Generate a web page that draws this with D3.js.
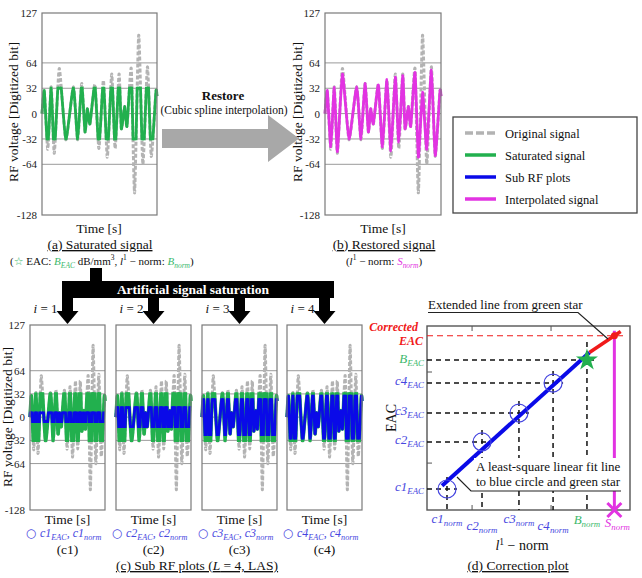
<!DOCTYPE html>
<html><head><meta charset="utf-8">
<script src="https://cdn.jsdelivr.net/npm/d3@7"></script>
<style>
body{margin:0;background:#fff}
svg{display:block}
text{font-family:"Liberation Serif","Times New Roman",Times,serif;fill:#111}
</style>
</head><body>
<svg id="c" width="642" height="578" font-family="Liberation Serif, Times New Roman, serif"></svg>
<script>
// ---------------- data ----------------
const sigT  = [0, .020, .050, .080, .107, .150, .207, .273, .310, .345, .374, .394, .417, .460, .495, .534, .568, .606, .636, .670, .690, .718, .739, .776, .805, .841, .877, .917, .950, .991, 1.0];
const origV = [0, 29, -45, 34, -50, 57, -33, 34, -33, 38, -23, 6, -13, 37, -44, 42, -55, 50, -44, 50, -19, 9, -16, 57, -100, 99, -64, 59, -54, 28, 22];
const restV = [0, 29, -42, 33, -48, 50, -32, 34, -32, 38, -23, 6, -13, 36, -42, 43, -47, 46, -36, 48, -19, 9, -16, 52, -55, 27, -45, 55, -53, 28, 22];
const yTicks = [127, 64, 32, 0, -32, -64, -128];
const gridVals = [64, 32, 0, -32, -64];
const satLevel = 32;
const subLevels = [6, 13, 24, 29];
const subNames = ['c1', 'c2', 'c3', 'c4'];
const legendItems = ['Original signal', 'Saturated signal', 'Sub RF plots', 'Interpolated signal'];
// correction plot
const cNorm = [0.985, 2.71, 4.53, 6.21];
const cEAC  = [1.14, 3.70, 5.27, 6.90];
const bNorm = 7.88, bEAC = 8.15;
const sNorm = 9.23, corrEAC = 9.47;
const fitSpan = [0.74, 8.0];
const extEnd = 9.54;
const dTickX = [2.22, 6.11];
const dTickY = [2.55, 7.5];

const C = {gray:'#b3b3b3', green:'#22b04e', blue:'#0a0ae8', mag:'#e233e2', red:'#f01a1a',
           lblue:'#4646e0', lgreen:'#3cb96c', grid:'#9a9a9a', box:'#7a7a7a'};
const CURVE = d3.curveCardinal.tension(0.5);
const svg = d3.select('#c');
const defs = svg.append('defs');

function rich(x, y, parts, anchor, size, extra) {
  const t = svg.append('text').attr('x', x).attr('y', y).attr('text-anchor', anchor || 'start').attr('font-size', size || 13);
  if (extra) extra(t);
  let cur = 0;
  parts.forEach(p => {
    const off = p.sub ? 3 : (p.sup ? -5 : 0);
    const ts = t.append('tspan').text(p.t);
    if (off - cur !== 0) ts.attr('dy', off - cur);
    cur = off;
    if (p.sub || p.sup) ts.attr('font-size', (size || 13) * 0.68);
    if (p.fill) ts.style('fill', p.fill);
    if (p.it) ts.attr('font-style', 'italic');
    if (p.b) ts.attr('font-weight', 'bold');
    if (p.ff) ts.style('font-family', p.ff);
  });
  return t;
}

let cid = 0;
const pts = (vals) => sigT.map((t, i) => ({t, v: vals[i]}));

function panel(x0, x1, y0, y1, showTicks) {
  const x = d3.scaleLinear().domain([0, 1]).range([x0, x1]);
  const y = d3.scaleLinear().domain([-128, 127]).range([y1, y0]);
  svg.append('g').selectAll('line').data(gridVals).join('line')
    .attr('x1', x0).attr('x2', x1).attr('y1', d => y(d)).attr('y2', d => y(d))
    .attr('stroke', C.grid).attr('stroke-width', 1);
  if (showTicks) {
    const ax = svg.append('g').attr('transform', `translate(${x0},0)`)
      .call(d3.axisLeft(y).tickValues(yTicks).tickFormat(d => String(d)).tickSize(0).tickPadding(5));
    ax.select('.domain').remove();
    ax.attr('font-family', null);
    ax.selectAll('text').attr('font-size', 11).style('fill', '#222');
  }
  return {x, y, x0, x1, y0, y1};
}
function frame(p) {
  svg.append('rect').attr('x', p.x0).attr('y', p.y0).attr('width', p.x1 - p.x0).attr('height', p.y1 - p.y0)
    .attr('fill', 'none').attr('stroke', C.box).attr('stroke-width', 1.2);
}
function plainLine(p, vals, color, w, dash) {
  const line = d3.line().x(d => p.x(d.t)).y(d => p.y(d.v)).curve(CURVE);
  const el = svg.append('path').attr('d', line(pts(vals))).attr('fill', 'none')
    .attr('stroke', color).attr('stroke-width', w).attr('stroke-linejoin', 'round');
  if (dash) el.attr('stroke-dasharray', dash);
}
function satLine(p, vals, L, color, w) {
  const P = pts(vals);
  const id = 'k' + (cid++);
  defs.append('clipPath').attr('id', id + 'b').append('rect')
    .attr('x', p.x0 - 5).attr('width', p.x1 - p.x0 + 10)
    .attr('y', p.y(L) - w / 2).attr('height', p.y(-L) - p.y(L) + w);
  defs.append('clipPath').attr('id', id + 'u').append('path')
    .attr('d', d3.area().x(d => p.x(d.t)).y0(p.y(-300)).y1(d => p.y(d.v)).curve(CURVE)(P));
  defs.append('clipPath').attr('id', id + 'l').append('path')
    .attr('d', d3.area().x(d => p.x(d.t)).y0(p.y(300)).y1(d => p.y(d.v)).curve(CURVE)(P));
  const line = d3.line().x(d => p.x(d.t)).y(d => p.y(d.v)).curve(CURVE);
  svg.append('path').attr('d', line(P)).attr('fill', 'none').attr('stroke', color)
    .attr('stroke-width', w).attr('stroke-linejoin', 'round').attr('clip-path', `url(#${id}b)`);
  [[L, 'u'], [-L, 'l']].forEach(([lv, s]) => {
    svg.append('line').attr('x1', p.x0).attr('x2', p.x1).attr('y1', p.y(lv)).attr('y2', p.y(lv))
      .attr('stroke', color).attr('stroke-width', w).attr('clip-path', `url(#${id}${s})`);
  });
}
function yTitle(x, y, size) {
  svg.append('text').attr('transform', `translate(${x},${y}) rotate(-90)`).attr('text-anchor', 'middle')
    .attr('font-size', size || 13.5).text('RF voltage [Digitized bit]');
}

// ---------------- (a) ----------------
const pa = panel(42, 157, 13, 215, true);
plainLine(pa, origV, C.gray, 3, '4,2');
satLine(pa, origV, satLevel, C.green, 2.8);
frame(pa);
yTitle(18, 112);
svg.append('text').attr('x', 99).attr('y', 233).attr('text-anchor', 'middle').attr('font-size', 13.5).text('Time [s]');
svg.append('text').attr('x', 100).attr('y', 249).attr('text-anchor', 'middle').attr('font-size', 13.5)
  .attr('text-decoration', 'underline').text('(a) Saturated signal');

// ---------------- (b) ----------------
const pb = panel(325, 441, 13, 215, true);
plainLine(pb, origV, C.gray, 3, '4,2');
plainLine(pb, restV, C.mag, 2.8);
frame(pb);
yTitle(302, 112);
svg.append('text').attr('x', 383).attr('y', 233).attr('text-anchor', 'middle').attr('font-size', 13.5).text('Time [s]');
svg.append('text').attr('x', 384).attr('y', 249).attr('text-anchor', 'middle').attr('font-size', 13.5)
  .attr('text-decoration', 'underline').text('(b) Restored signal');

// gray arrow
svg.append('path').attr('d', 'M162,129 L268,129 L268,115 L299,138.5 L268,162 L268,148 L162,148 Z').attr('fill', '#a8a8a8');
svg.append('text').attr('x', 223).attr('y', 100).attr('text-anchor', 'middle').attr('font-size', 13).attr('font-weight', 'bold').text('Restore');
svg.append('text').attr('x', 224).attr('y', 114).attr('text-anchor', 'middle').attr('font-size', 11.5).text('(Cubic spline interpolation)');

// legend
svg.append('rect').attr('x', 453).attr('y', 117).attr('width', 184).attr('height', 96)
  .attr('fill', '#fff').attr('stroke', '#444').attr('stroke-width', 1.3);
const legCol = [C.gray, C.green, C.blue, C.mag];
legendItems.forEach((s, i) => {
  const ly = 133 + i * 22;
  const l = svg.append('line').attr('x1', 465).attr('x2', 496).attr('y1', ly).attr('y2', ly)
    .attr('stroke', legCol[i]).attr('stroke-width', 3.5);
  if (i === 0) l.attr('stroke-dasharray', '8,3');
  svg.append('text').attr('x', 505).attr('y', ly + 4.5).attr('font-size', 12.5).text(s);
});

// texts under (a) and (b)
rich(10, 265, [
  {t: '('}, {t: '☆', fill: C.lgreen, ff: '"DejaVu Sans"'}, {t: ' EAC: '},
  {t: 'B', it: true, fill: C.lgreen}, {t: 'EAC', sub: true, it: true, fill: C.lgreen},
  {t: ' dB/mm'}, {t: '3', sup: true}, {t: ', '}, {t: 'l', it: true}, {t: '1', sup: true},
  {t: ' − norm: '}, {t: 'B', it: true, fill: C.lgreen}, {t: 'norm', sub: true, it: true, fill: C.lgreen}, {t: ')'}
], 'start', 11);
rich(384, 265, [
  {t: '('}, {t: 'l', it: true}, {t: '1', sup: true}, {t: ' − norm: '},
  {t: 'S', it: true, fill: C.mag}, {t: 'norm', sub: true, it: true, fill: C.mag}, {t: ')'}
], 'middle', 11);

// ---------------- (c) sub plots ----------------
const subX = [[30, 105], [116, 191], [202, 277], [287, 362]];
const arrowG = svg.append('g').attr('fill', '#000');
arrowG.append('rect').attr('x', 90).attr('y', 268).attr('width', 12).attr('height', 14);
arrowG.append('rect').attr('x', 62).attr('y', 281).attr('width', 272).attr('height', 17);
subX.forEach(([a, b], i) => {
  const cx = (a + b) / 2;
  arrowG.append('rect').attr('x', cx - 5.5).attr('y', 296).attr('width', 11).attr('height', 16);
  arrowG.append('path').attr('d', `M${cx - 11},311 L${cx + 11},311 L${cx},324 Z`);
  rich(cx - 22, 313, [{t: 'i', it: true}, {t: ' = ' + (i + 1)}], 'middle', 13);
});
svg.append('text').attr('x', 193).attr('y', 294).attr('text-anchor', 'middle').attr('font-size', 13.5)
  .attr('font-weight', 'bold').style('fill', '#fff').text('Artificial signal saturation');

subX.forEach(([a, b], i) => {
  const p = panel(a, b, 325, 510, i === 0);
  plainLine(p, origV, C.gray, 3, '4,2');
  satLine(p, origV, satLevel, C.green, 3.5);
  satLine(p, origV, subLevels[i], C.blue, 2.8);
  frame(p);
  const cx = (a + b) / 2;
  svg.append('text').attr('x', cx).attr('y', 524).attr('text-anchor', 'middle').attr('font-size', 13.5).text('Time [s]');
  rich(cx - 4, 537, [
    {t: '○ ', ff: '"DejaVu Sans"', fill: C.lblue},
    {t: subNames[i], it: true, fill: C.lblue}, {t: 'EAC', sub: true, it: true, fill: C.lblue},
    {t: ', ', fill: C.lblue},
    {t: subNames[i], it: true, fill: C.lblue}, {t: 'norm', sub: true, it: true, fill: C.lblue}
  ], 'middle', 12);
  svg.append('text').attr('x', cx).attr('y', 554).attr('text-anchor', 'middle').attr('font-size', 13.5).text(`(${subNames[i]})`);
});
yTitle(11.5, 417);
rich(197, 570, [{t: '(c) Sub RF plots ('}, {t: 'L', it: true}, {t: ' = 4, LAS)'}], 'middle', 13.5,
  t => t.attr('text-decoration', 'underline'));

// ---------------- (d) correction plot ----------------
const dx = d3.scaleLinear().domain([0, 10]).range([427, 630]);
const dy = d3.scaleLinear().domain([0, 10]).range([510, 326]);
const dg = svg.append('g');
dg.append('rect').attr('x', 427).attr('y', 326).attr('width', 203).attr('height', 184)
  .attr('fill', 'none').attr('stroke', '#555').attr('stroke-width', 1.4);
dg.selectAll('.tx').data(dTickX).join('line').attr('x1', d => dx(d)).attr('x2', d => dx(d))
  .attr('y1', 510).attr('y2', 505).attr('stroke', '#555');
dg.selectAll('.tx2').data(dTickX).join('line').attr('x1', d => dx(d)).attr('x2', d => dx(d))
  .attr('y1', 326).attr('y2', 331).attr('stroke', '#555');
dg.selectAll('.ty').data(dTickY).join('line').attr('y1', d => dy(d)).attr('y2', d => dy(d))
  .attr('x1', 427).attr('x2', 432).attr('stroke', '#555');

const allN = cNorm.concat([bNorm]);
const allE = cEAC.concat([bEAC]);
allN.forEach((n, i) => {
  const up = i === 4 ? 18 : 12;
  dg.append('line').attr('x1', dx(n)).attr('x2', dx(n)).attr('y1', dy(allE[i]) - up).attr('y2', 510)
    .attr('stroke', '#111').attr('stroke-width', 1.5).attr('stroke-dasharray', '5,4');
  dg.append('line').attr('x1', 427).attr('x2', dx(n) + 10).attr('y1', dy(allE[i])).attr('y2', dy(allE[i]))
    .attr('stroke', '#111').attr('stroke-width', 1.5).attr('stroke-dasharray', '5,4');
});
dg.append('line').attr('x1', 427).attr('x2', 626).attr('y1', dy(corrEAC)).attr('y2', dy(corrEAC))
  .attr('stroke', C.red).attr('stroke-width', 1.2).attr('stroke-dasharray', '6,4');

// least squares fit through blue circles and green star
const fx = allN, fy = allE;
const mx = d3.mean(fx), my = d3.mean(fy);
const slope = d3.sum(fx.map((v, i) => (v - mx) * (fy[i] - my))) / d3.sum(fx.map(v => (v - mx) ** 2));
const icpt = my - slope * mx;
const fitEnd = [fitSpan[1], icpt + slope * fitSpan[1]];
dg.append('line').attr('x1', dx(sNorm)).attr('x2', dx(sNorm)).attr('y1', dy(corrEAC) - 5).attr('y2', 510)
  .attr('stroke', C.mag).attr('stroke-width', 3);
const rs = (corrEAC - fitEnd[1]) / (sNorm - fitEnd[0]);
dg.append('line').attr('x1', dx(fitEnd[0])).attr('y1', dy(fitEnd[1]))
  .attr('x2', dx(extEnd)).attr('y2', dy(fitEnd[1] + rs * (extEnd - fitEnd[0])))
  .attr('stroke', C.red).attr('stroke-width', 3.5);
dg.append('circle').attr('cx', dx(sNorm)).attr('cy', dy(corrEAC)).attr('r', 3.5).attr('fill', C.red);
dg.append('line').attr('x1', dx(fitSpan[0])).attr('y1', dy(icpt + slope * fitSpan[0]))
  .attr('x2', dx(fitEnd[0])).attr('y2', dy(fitEnd[1])).attr('stroke', C.blue).attr('stroke-width', 4);
dg.selectAll('.cc').data(cNorm).join('circle').attr('cx', d => dx(d)).attr('cy', (d, i) => dy(cEAC[i]))
  .attr('r', 9).attr('fill', 'none').attr('stroke', C.lblue).attr('stroke-width', 1.2);
dg.append('path').attr('d', d3.symbol(d3.symbolStar).size(150)())
  .attr('transform', `translate(${dx(bNorm)},${dy(bEAC)})`).attr('fill', C.green);
const sx = dx(sNorm);
dg.append('path').attr('d', `M${sx - 7},503 L${sx + 7},517 M${sx + 7},503 L${sx - 7},517`)
  .attr('stroke', C.mag).attr('stroke-width', 3);

rich(418, 331, [{t: 'Corrected', it: true, b: true, fill: C.red}], 'end', 12);
rich(423, 345, [{t: 'EAC', it: true, b: true, fill: C.red}], 'end', 12);
rich(424, dy(bEAC) + 3, [{t: 'B', it: true, fill: C.lgreen}, {t: 'EAC', sub: true, it: true, fill: C.lgreen}], 'end', 13);
cNorm.forEach((n, i) => {
  rich(424, dy(cEAC[i]) + 2, [{t: subNames[i], it: true, fill: C.lblue}, {t: 'EAC', sub: true, it: true, fill: C.lblue}], 'end', 13);
});
const botY = [523, 530, 523, 530];
cNorm.forEach((n, i) => {
  rich(dx(n), botY[i], [{t: subNames[i], it: true, fill: C.lblue}, {t: 'norm', sub: true, it: true, fill: C.lblue}], 'middle', 13);
});
rich(dx(bNorm), 524, [{t: 'B', it: true, fill: C.lgreen}, {t: 'norm', sub: true, it: true, fill: C.lgreen}], 'middle', 13);
rich(dx(sNorm) + 3, 527, [{t: 'S', it: true, fill: C.mag}, {t: 'norm', sub: true, it: true, fill: C.mag}], 'middle', 13);
rich(522, 550, [{t: 'l', it: true}, {t: '1', sup: true}, {t: ' − norm'}], 'middle', 14);
svg.append('text').attr('x', 518).attr('y', 570).attr('text-anchor', 'middle').attr('font-size', 13.5)
  .attr('text-decoration', 'underline').text('(d) Correction plot');
svg.append('text').attr('transform', 'translate(396,418) rotate(-90)').attr('text-anchor', 'middle')
  .attr('font-size', 14).text('EAC');

svg.append('text').attr('x', 428).attr('y', 309).attr('font-size', 13).text('Extended line from green star');
svg.append('path').attr('d', 'M428,312.5 L578,312.5 L608,339').attr('fill', 'none').attr('stroke', '#222').attr('stroke-width', 1.2);
svg.append('rect').attr('x', 474).attr('y', 458).attr('width', 148).attr('height', 33).attr('fill', '#fff');
svg.append('text').attr('x', 476).attr('y', 471).attr('font-size', 13).text('A least-square linear fit line');
svg.append('text').attr('x', 476).attr('y', 486).attr('font-size', 13).text('to blue circle and green star');
svg.append('path').attr('d', 'M457,477 L471,491 L621,491').attr('fill', 'none').attr('stroke', '#222').attr('stroke-width', 1.2);
</script>
</body></html>
